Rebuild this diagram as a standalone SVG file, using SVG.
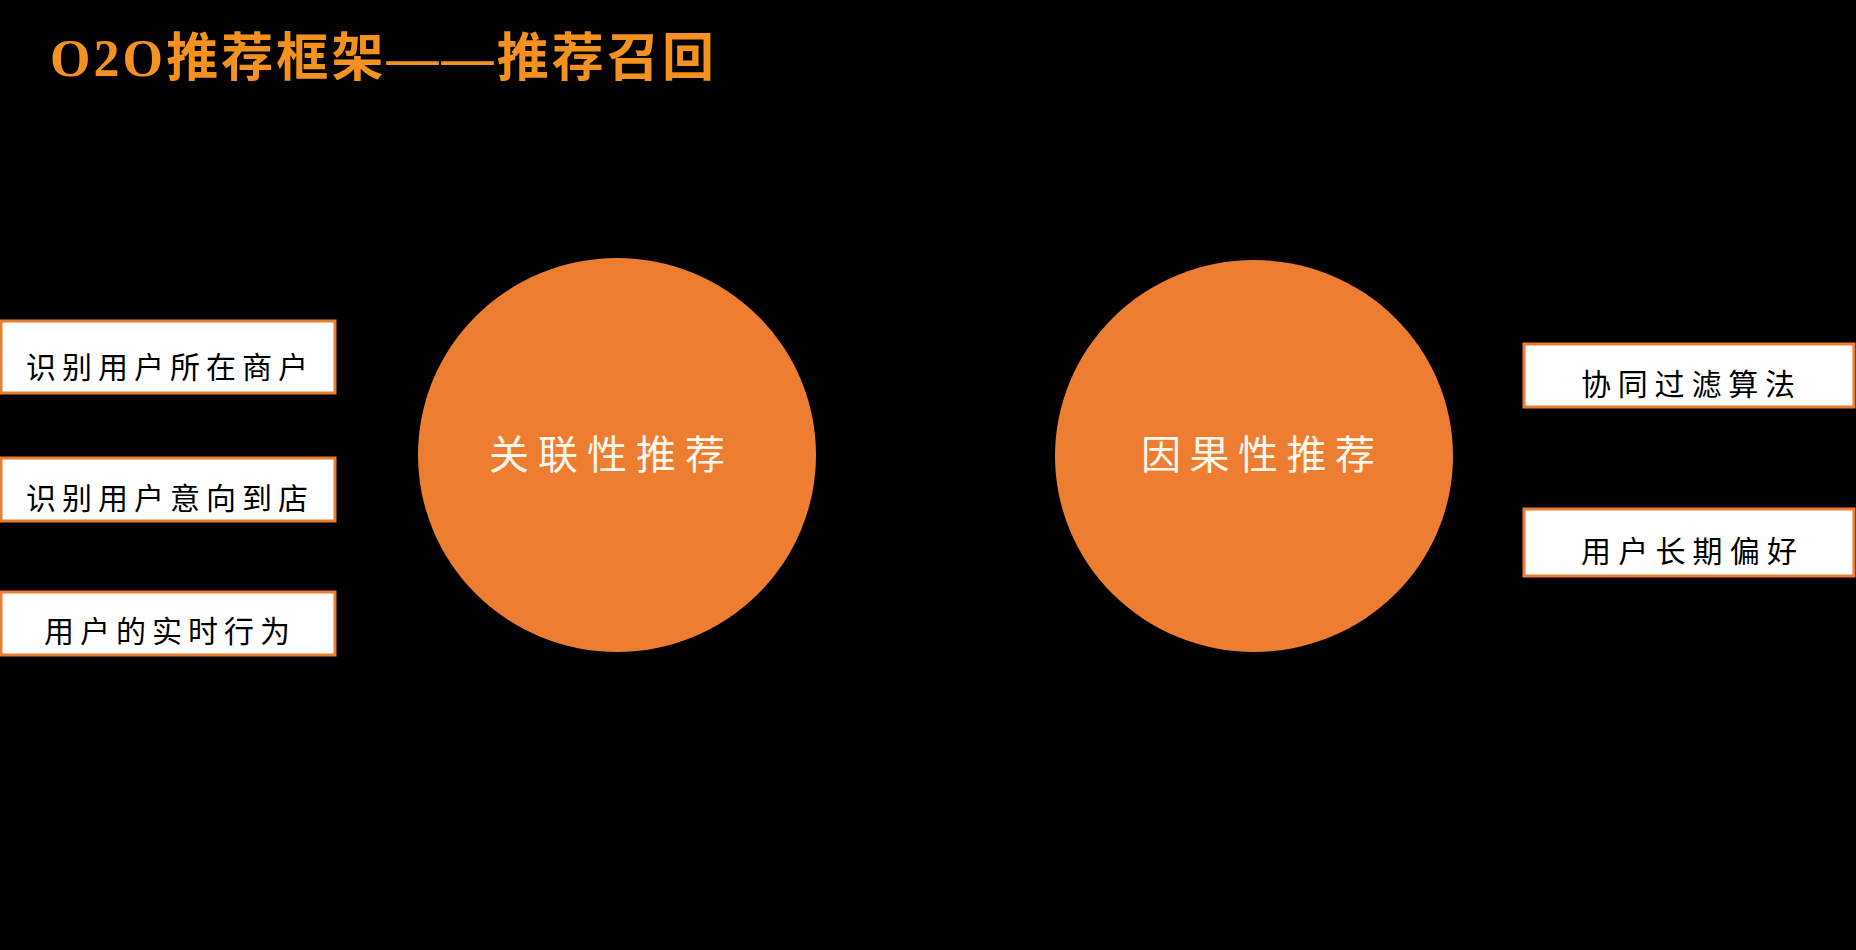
<svg xmlns="http://www.w3.org/2000/svg" width="1856" height="950" viewBox="0 0 1856 950">
<style>
.bg{fill:#000000}
.title{font-family:"Liberation Serif","Noto Sans CJK SC",serif;font-size:52px;font-weight:bold;fill:#F5911F}
.circle{fill:#ED7D31}
.ctext{font-family:"Noto Sans CJK SC","Liberation Serif",serif;font-size:40px;fill:#FFF8EC}
.box{fill:#FFFFFF;stroke:#ED7D31;stroke-width:3}
.btext{font-family:"Noto Sans CJK SC","Liberation Serif",serif;font-size:30px;fill:#000000}
</style>
<rect class="bg" x="0" y="0" width="1856" height="950"/>
<text class="title" x="50" y="76" textLength="664" lengthAdjust="spacing">O2O推荐框架——推荐召回</text>
<g id="connectors"></g>
<g id="node-association">
<ellipse class="circle" cx="617" cy="455" rx="199" ry="197"/>
<text class="ctext" x="489" y="469" textLength="236" lengthAdjust="spacing">关联性推荐</text>
</g>
<g id="node-causal">
<ellipse class="circle" cx="1254" cy="456" rx="199" ry="196"/>
<text class="ctext" x="1141" y="469" textLength="234" lengthAdjust="spacing">因果性推荐</text>
</g>
<g id="node-merchant">
<rect class="box" x="1" y="321" width="334" height="72"/>
<text class="btext" x="26" y="378" textLength="282" lengthAdjust="spacing">识别用户所在商户</text>
</g>
<g id="node-intent">
<rect class="box" x="1" y="458" width="334" height="63"/>
<text class="btext" x="26" y="509" textLength="282" lengthAdjust="spacing">识别用户意向到店</text>
</g>
<g id="node-realtime">
<rect class="box" x="1" y="592" width="334" height="63"/>
<text class="btext" x="44" y="642" textLength="246" lengthAdjust="spacing">用户的实时行为</text>
</g>
<g id="node-cf">
<rect class="box" x="1524" y="344" width="330" height="63"/>
<text class="btext" x="1581" y="395" textLength="214" lengthAdjust="spacing">协同过滤算法</text>
</g>
<g id="node-longterm">
<rect class="box" x="1524" y="509" width="330" height="67"/>
<text class="btext" x="1581" y="562" textLength="216" lengthAdjust="spacing">用户长期偏好</text>
</g>
</svg>
